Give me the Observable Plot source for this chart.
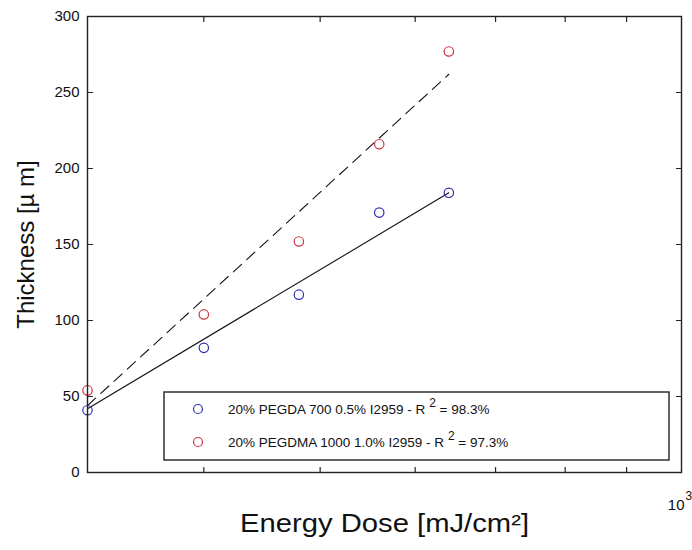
<!DOCTYPE html>
<html><head><meta charset="utf-8">
<script src="https://cdn.jsdelivr.net/npm/d3@7"></script>
<script src="https://cdn.jsdelivr.net/npm/@observablehq/plot@0.6"></script>
<style>
body{margin:0;background:#fff}
#chart svg{font-family:"Liberation Sans",Arial,sans-serif}
</style>
</head><body><div id="chart"></div>
<script>
// Data
const dose = [320, 400, 480, 560, 640];
const thicknessPEGDA = [41, 82, 117, 171, 184];
const thicknessPEGDMA = [54, 104, 152, 216, 277];
const fitDose = [320, 640];
const fitPEGDA = [42, 184];
const fitPEGDMA = [44, 262];
const yTicks = [0, 50, 100, 150, 200, 250, 300];
const xMinorTicks = [400, 500, 600, 700, 800, 900];
const xMajorTick = [1000];
const seriesNames = ["20% PEGDA 700 0.5% I2959 - R", "20% PEGDMA 1000 1.0% I2959 - R"];
const r2Values = ["98.3%", "97.3%"];
const colors = ["#2f2fb4", "#cc3344"];

const ptsA = dose.map((d, i) => ({dose: d, t: thicknessPEGDA[i]}));
const ptsB = dose.map((d, i) => ({dose: d, t: thicknessPEGDMA[i]}));
const fitA = fitDose.map((d, i) => ({dose: d, t: fitPEGDA[i]}));
const fitB = fitDose.map((d, i) => ({dose: d, t: fitPEGDMA[i]}));

// inward tick shape for vector marks
const tickShape = {draw(context, l) { context.moveTo(0, 0); context.lineTo(0, -l); }};
const tickOpts = {length: 5, anchor: "start", shape: tickShape, stroke: "#222", strokeWidth: 1.2};

const plot = Plot.plot({
  width: 692, height: 550,
  marginLeft: 87, marginRight: 11, marginTop: 16, marginBottom: 78,
  style: {fontFamily: "'Liberation Sans', Arial, sans-serif", fontSize: "15px", color: "#111", background: "#fff", overflow: "visible"},
  x: {type: "log", domain: [320, 1000], axis: null},
  y: {domain: [0, 300]},
  marks: [
    Plot.axisY(yTicks, {anchor: "left", tickSize: 0, tickPadding: 8, fontSize: 15, label: null}),
    Plot.vector(yTicks, {y: d => d, frameAnchor: "left", rotate: 90, ...tickOpts}),
    Plot.vector(yTicks, {y: d => d, frameAnchor: "right", rotate: -90, ...tickOpts}),
    Plot.vector(xMinorTicks, {x: d => d, frameAnchor: "bottom", rotate: 0, ...tickOpts}),
    Plot.vector(xMinorTicks, {x: d => d, frameAnchor: "top", rotate: 180, ...tickOpts}),
    Plot.text(xMajorTick, {x: d => d, frameAnchor: "bottom", dy: 37, dx: 3, text: () => "10", textAnchor: "end", fontSize: 15, fill: "#111"}),
    Plot.text(xMajorTick, {x: d => d, frameAnchor: "bottom", dy: 27, dx: 4, text: () => "3", textAnchor: "start", fontSize: 12, fill: "#111"}),
    Plot.text(["Thickness [µ m]"], {frameAnchor: "left", dx: -61, rotate: -90, textAnchor: "middle", fontSize: 24, fill: "#111"}),
    Plot.text(["Energy Dose [mJ/cm²]"], {frameAnchor: "bottom", dy: 59, textAnchor: "middle", fontSize: 25, fill: "#111", className: "xlabel"}),
    Plot.line(fitA, {x: "dose", y: "t", stroke: "#111", strokeWidth: 1.1}),
    Plot.line(fitB, {x: "dose", y: "t", stroke: "#111", strokeWidth: 1.1, strokeDasharray: "11,7"}),
    Plot.dot(ptsA, {x: "dose", y: "t", r: 4.7, stroke: colors[0], strokeWidth: 1.2, fill: "none"}),
    Plot.dot(ptsB, {x: "dose", y: "t", r: 4.7, stroke: colors[1], strokeWidth: 1.2, fill: "none"}),
    Plot.frame({stroke: "#222", strokeWidth: 1.4})
  ]
});

const svg = d3.select(plot);
// stretch x label to the reference's width
svg.selectAll("g.xlabel text").attr("textLength", 289).attr("lengthAdjust", "spacingAndGlyphs");

// Legend box drawn inside the plot area
const L = 164, T = 392, R = 669, B = 460;
const lg = svg.append("g").attr("class", "legend").attr("text-anchor", "start");
lg.append("rect").attr("x", L).attr("y", T).attr("width", R - L).attr("height", B - T)
  .attr("fill", "#fff").attr("stroke", "#222").attr("stroke-width", 1.4);
seriesNames.forEach((name, i) => {
  const cy = 409 + i * 33;
  lg.append("circle").attr("cx", 198).attr("cy", cy).attr("r", 4.5)
    .attr("fill", "none").attr("stroke", colors[i]).attr("stroke-width", 1.2);
  const t = lg.append("text").attr("x", 228).attr("y", cy + 5)
    .attr("font-size", 13.5).attr("fill", "#111").attr("text-anchor", "start");
  t.append("tspan").text(name + " ");
  t.append("tspan").attr("dy", -7).attr("font-size", 12).text("2");
  t.append("tspan").attr("dy", 7).text(" = " + r2Values[i]);
});

document.getElementById("chart").appendChild(plot);
</script>
</body></html>
